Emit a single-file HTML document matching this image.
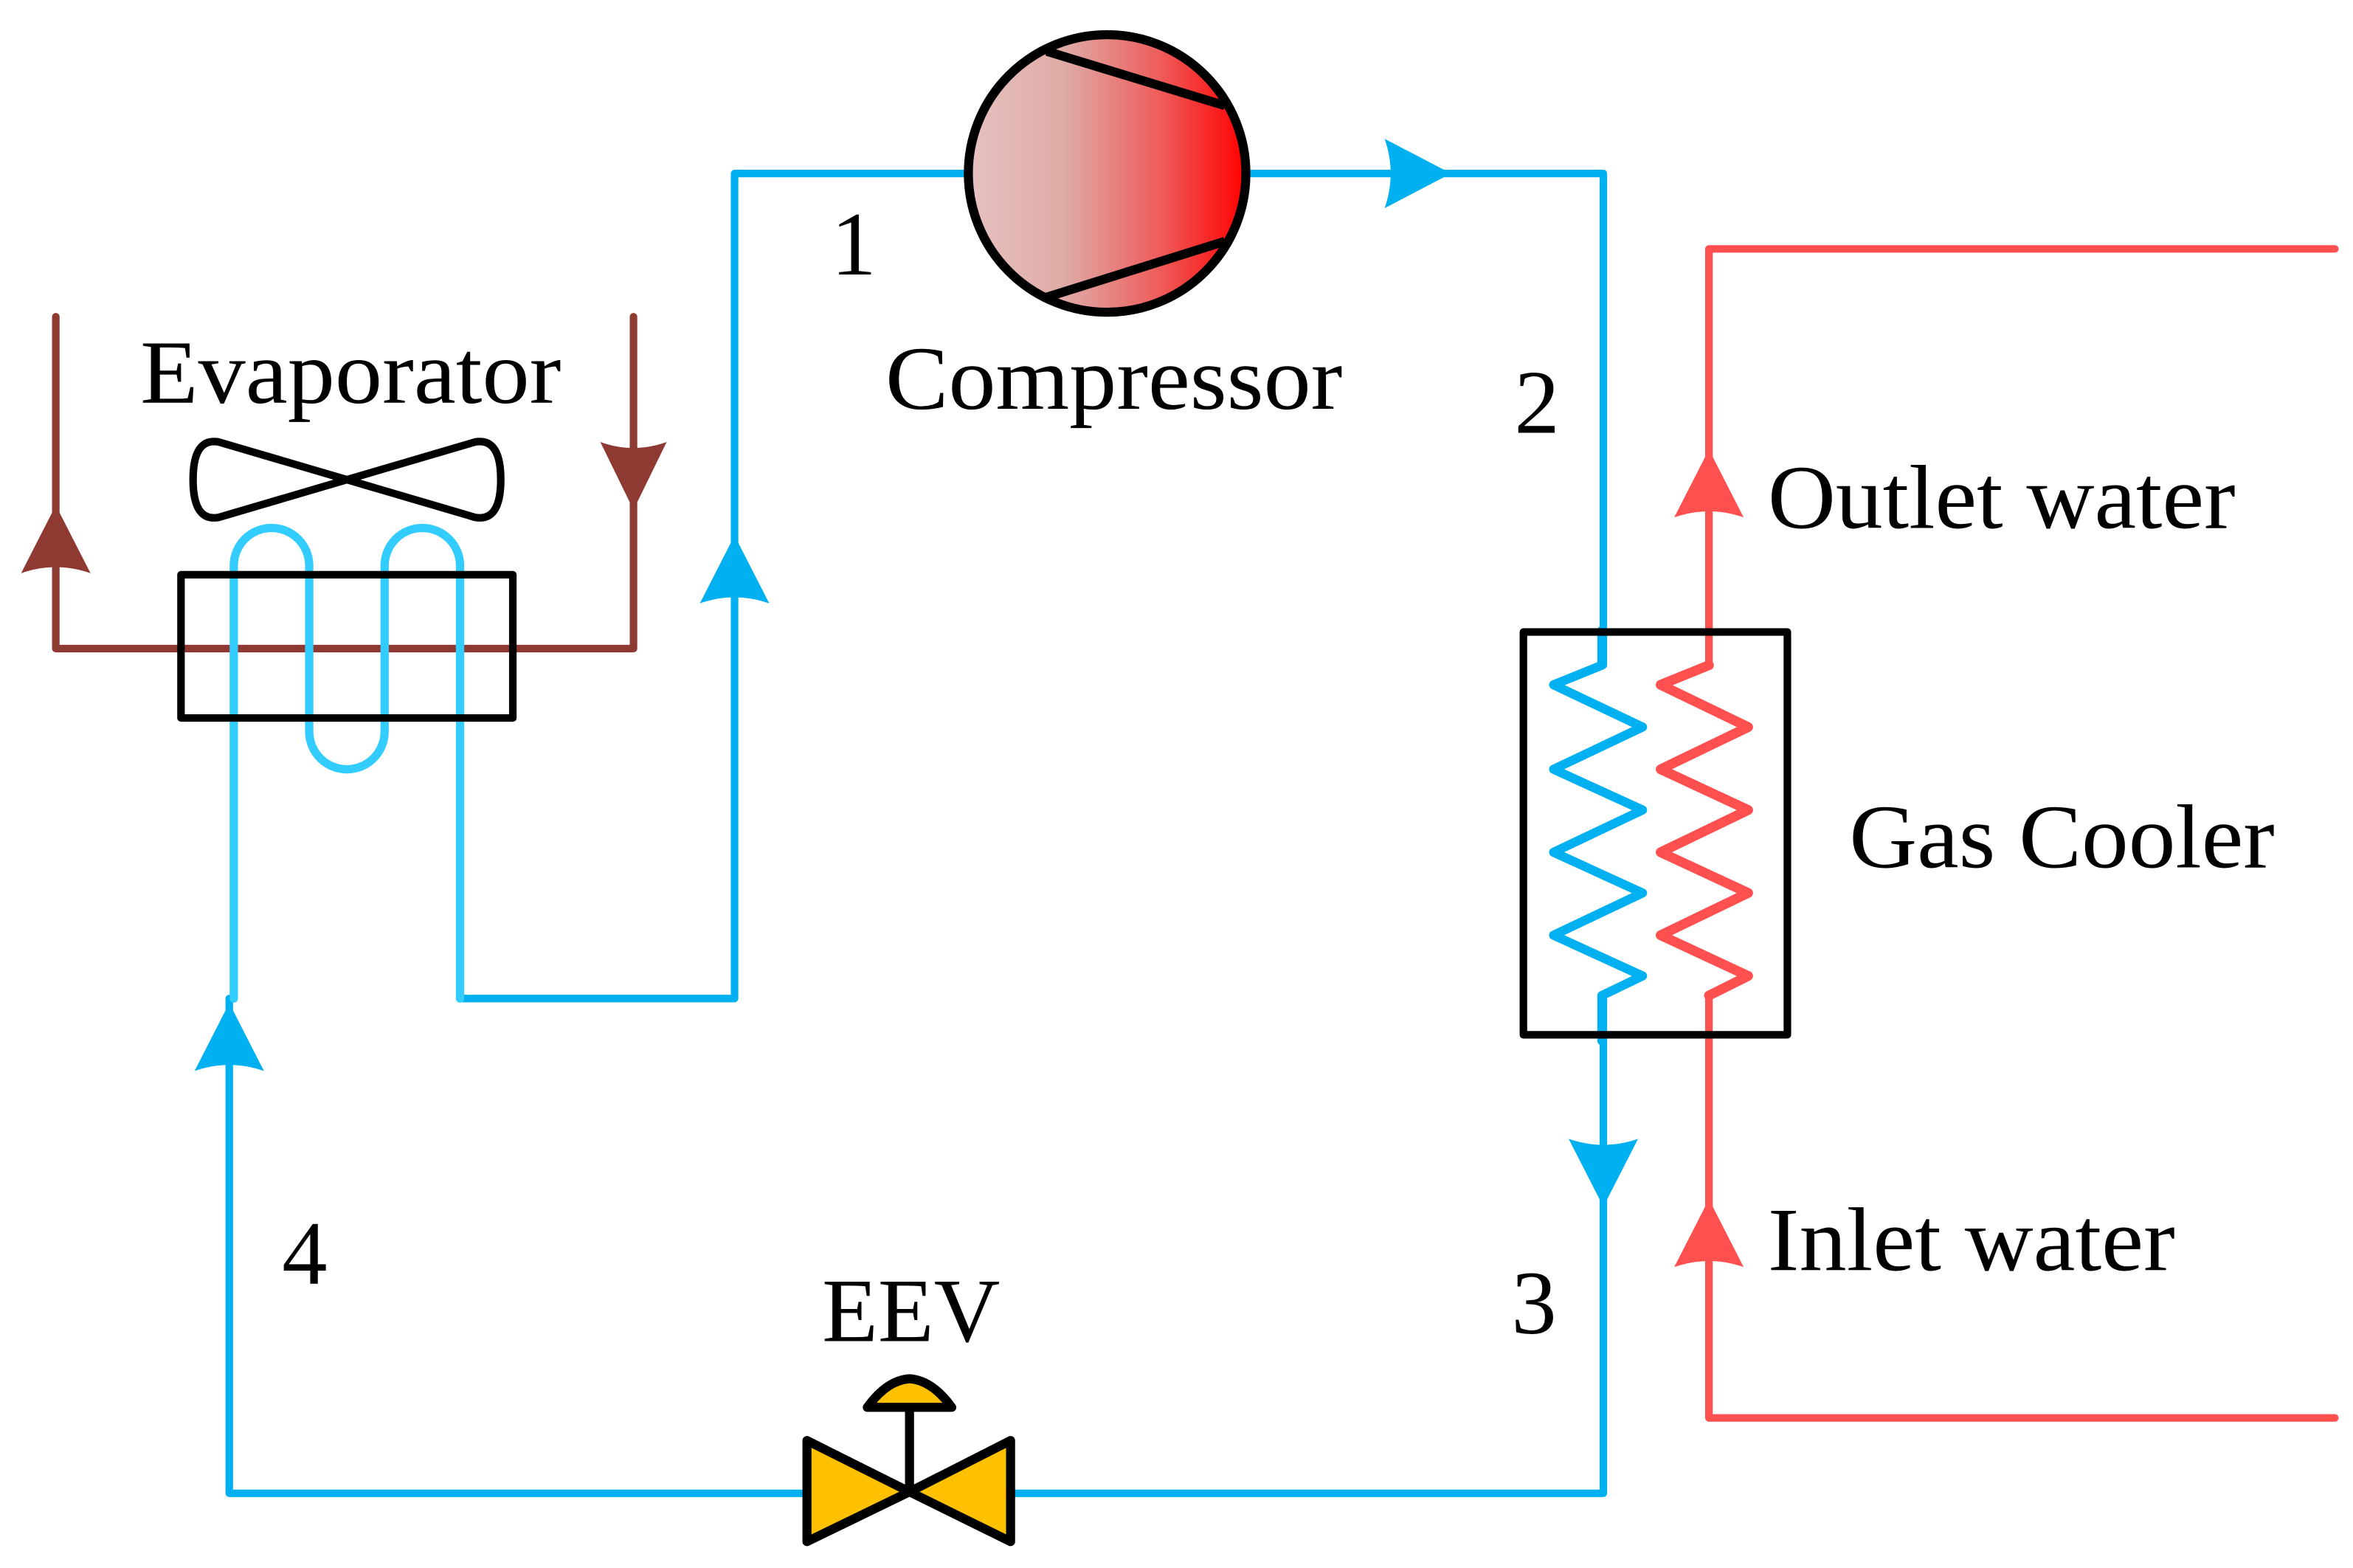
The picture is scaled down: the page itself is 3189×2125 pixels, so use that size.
<!DOCTYPE html>
<html><head><meta charset="utf-8"><style>html,body{margin:0;padding:0;background:#fff}svg{display:block}</style></head>
<body>
<svg width="3189" height="2125" viewBox="0 0 1560 1039.5" preserveAspectRatio="none" xmlns="http://www.w3.org/2000/svg">
<defs>
<linearGradient id="g" x1="0" x2="1" y1="0" y2="0">
<stop offset="0" stop-color="#e6c2c0"/><stop offset="0.35" stop-color="#dfaaa6"/><stop offset="0.7" stop-color="#ee5a58"/><stop offset="1" stop-color="#ff0000"/>
</linearGradient>
</defs>
<g fill="none" stroke-linecap="round" stroke-linejoin="round">
<path d="M37,210 V430 H420 V210" stroke="#8e3a33" stroke-width="5"/>
<path d="M152,662 V990 H535" stroke="#00b0f0" stroke-width="5"/>
<path d="M672,990 H1063 V662" stroke="#00b0f0" stroke-width="5"/>
<path d="M305,662 H487 V115 H642" stroke="#00b0f0" stroke-width="5"/>
<path d="M829,115 H1063 V441" stroke="#00b0f0" stroke-width="5"/>
<path d="M1062,418 V441 L1030,454 L1089,482 L1030,510 L1089,537 L1030,565 L1089,592 L1030,620 L1089,647 L1062,660 V690" stroke="#00b0f0" stroke-width="6"/>
<path d="M155,662 V375 A25,25 0 0 1 205,375 V485 A25,25 0 0 0 255,485 V375 A25,25 0 0 1 305,375 V662" stroke="#33ccff" stroke-width="5.5"/>
<path d="M1548,165 H1133 V441 L1101,454 L1159,482 L1101,510 L1159,537 L1101,565 L1159,592 L1101,620 L1159,647 L1133,660 V940 H1548" stroke="#ff5050" stroke-width="5"/>
<path d="M1133,441 L1101,454 L1159,482 L1101,510 L1159,537 L1101,565 L1159,592 L1101,620 L1159,647 L1133,660" stroke="#ff5050" stroke-width="6.5"/>
<rect x="120" y="381" width="220" height="95" stroke="#000" stroke-width="5"/>
<rect x="1010" y="419" width="175" height="267" stroke="#000" stroke-width="5"/>
<path d="M230,318 L145,293 Q128,290 128,318 Q128,346 145,343 Z M230,318 L315,293 Q332,290 332,318 Q332,346 315,343 Z" stroke="#000" stroke-width="5"/>
</g>
<g stroke="none">
<path d="M37,335 L60,380 Q37,372 14,380 Z" fill="#8e3a33"/>
<path d="M420,338 L398,293 Q420,301 442,293 Z" fill="#8e3a33"/>
<path d="M487,355 L510,400 Q487,392 464,400 Z" fill="#00b0f0"/>
<path d="M152,665 L175,710 Q152,702 129,710 Z" fill="#00b0f0"/>
<path d="M962,115 L918,92 Q926,115 918,138 Z" fill="#00b0f0"/>
<path d="M1063,800 L1040,755 Q1063,763 1086,755 Z" fill="#00b0f0"/>
<path d="M1133,298 L1156,343 Q1133,335 1110,343 Z" fill="#ff5050"/>
<path d="M1133,795 L1156,840 Q1133,832 1110,840 Z" fill="#ff5050"/>
</g>
<circle cx="734" cy="115" r="92" fill="url(#g)" stroke="#000" stroke-width="6"/>
<path d="M694,34 L812,70 M694,197 L812,160" stroke="#000" stroke-width="6" fill="none"/>
<g stroke="#000" stroke-width="6" stroke-linejoin="round">
<path d="M535,955 L535,1022 L603,989 Z M670,955 L670,1022 L603,989 Z" fill="#ffc000"/>
<path d="M603,989 V933" fill="none"/>
<path d="M575,933 Q588,915 603,914 Q618,915 631,933 Z" fill="#ffc000"/>
</g>
<g font-family="'Liberation Serif', serif" font-size="60" fill="#000">
<text x="93" y="267" textLength="279" lengthAdjust="spacingAndGlyphs">Evaporator</text>
<text x="587" y="271" textLength="303" lengthAdjust="spacingAndGlyphs">Compressor</text>
<text x="1172" y="350" textLength="310" lengthAdjust="spacingAndGlyphs">Outlet water</text>
<text x="1226" y="575" textLength="282" lengthAdjust="spacingAndGlyphs">Gas Cooler</text>
<text x="1172" y="842" textLength="270" lengthAdjust="spacingAndGlyphs">Inlet water</text>
<text x="545" y="889" textLength="118" lengthAdjust="spacingAndGlyphs">EEV</text>
<text x="551" y="182">1</text>
<text x="1004" y="287">2</text>
<text x="1002" y="884">3</text>
<text x="187" y="851">4</text>
</g>
</svg>
</body></html>
